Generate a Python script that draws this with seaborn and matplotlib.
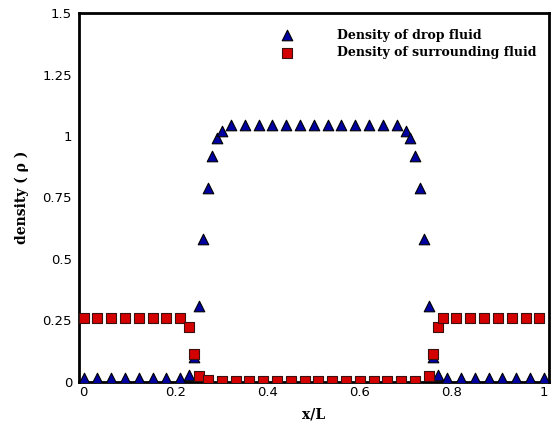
import matplotlib
matplotlib.use("Agg")
import matplotlib.pyplot as plt
import matplotlib.ticker as ticker
import seaborn as sns
import pandas as pd

# density profile across the drop
x_drop = [0.00, 0.03, 0.06, 0.09, 0.12, 0.15, 0.18, 0.21,
          0.23, 0.24, 0.25, 0.26, 0.27, 0.28, 0.29, 0.30,
          0.32, 0.35, 0.38, 0.41, 0.44, 0.47, 0.50, 0.53, 0.56, 0.59, 0.62, 0.65, 0.68,
          0.70, 0.71, 0.72, 0.73, 0.74, 0.75, 0.76, 0.77,
          0.79, 0.82, 0.85, 0.88, 0.91, 0.94, 0.97, 1.00]
rho_drop = [0.015, 0.015, 0.015, 0.015, 0.015, 0.015, 0.015, 0.015,
            0.03, 0.10, 0.31, 0.58, 0.79, 0.92, 0.99, 1.02,
            1.045, 1.045, 1.045, 1.045, 1.045, 1.045, 1.045, 1.045, 1.045, 1.045, 1.045, 1.045, 1.045,
            1.02, 0.99, 0.92, 0.79, 0.58, 0.31, 0.10, 0.03,
            0.015, 0.015, 0.015, 0.015, 0.015, 0.015, 0.015, 0.015]

x_surr = [0.00, 0.03, 0.06, 0.09, 0.12, 0.15, 0.18, 0.21,
          0.23, 0.24, 0.25, 0.27,
          0.30, 0.33, 0.36, 0.39, 0.42, 0.45, 0.48, 0.51, 0.54, 0.57, 0.60, 0.63, 0.66, 0.69, 0.72,
          0.75, 0.76, 0.77, 0.78,
          0.81, 0.84, 0.87, 0.90, 0.93, 0.96, 0.99]
rho_surr = [0.26, 0.26, 0.26, 0.26, 0.26, 0.26, 0.26, 0.26,
            0.225, 0.113, 0.026, 0.01,
            0.005, 0.005, 0.005, 0.005, 0.005, 0.005, 0.005, 0.005, 0.005, 0.005, 0.005, 0.005, 0.005, 0.005, 0.005,
            0.026, 0.113, 0.225, 0.26,
            0.26, 0.26, 0.26, 0.26, 0.26, 0.26, 0.26]

x_ticks = [0, 0.2, 0.4, 0.6, 0.8, 1]
y_ticks = [0, 0.25, 0.5, 0.75, 1, 1.25, 1.5]

df_drop = pd.DataFrame({"x": x_drop, "rho": rho_drop})
df_surr = pd.DataFrame({"x": x_surr, "rho": rho_surr})

sns.set_theme(style="white")
plt.rcParams['font.family'] = ['DejaVu Sans']
plt.rcParams['text.color'] = 'black'

fig = plt.figure(figsize=(5.52, 4.25), dpi=100)
ax = fig.add_axes([0.1431, 0.1012, 0.8506, 0.8682])

sns.scatterplot(data=df_drop, x="x", y="rho", marker="^", s=58, color="#0000a0",
                edgecolor="black", linewidth=0.8, label="Density of drop fluid", ax=ax, zorder=3)
sns.scatterplot(data=df_surr, x="x", y="rho", marker="s", s=44, color="#d40000",
                edgecolor="#3a1010", linewidth=0.8, label="Density of surrounding fluid", ax=ax, zorder=4)

ax.set_xlim(-0.01, 1.01)
ax.set_ylim(0, 1.5)
ax.set_xticks(x_ticks)
ax.set_yticks(y_ticks)
ax.xaxis.set_major_formatter(ticker.FuncFormatter(lambda v, p: "%g" % v))
ax.yaxis.set_major_formatter(ticker.FuncFormatter(lambda v, p: "%g" % v))
ax.tick_params(axis="both", direction="in", labelsize=9.5, colors="black", width=1.2)
ax.tick_params(axis="y", length=7, pad=5)
ax.tick_params(axis="x", length=6, pad=3)
for sp in ax.spines.values():
    sp.set_linewidth(2)
    sp.set_color("black")

serif = dict(family="DejaVu Serif", weight="bold", size=10, color="black")
ax.set_xlabel("x/L", fontdict=serif, labelpad=6)
ax.set_ylabel("density ( \u03c1 )", fontdict=serif, labelpad=10)

leg = ax.legend(loc="upper left", bbox_to_anchor=(0.405, 0.971), frameon=False,
                handletextpad=3.0, labelspacing=0.35, borderaxespad=0,
                prop={"family": "DejaVu Serif", "weight": "bold", "size": 9})
for t in leg.get_texts():
    t.set_color("black")

fig.savefig("out.png", dpi=100)
